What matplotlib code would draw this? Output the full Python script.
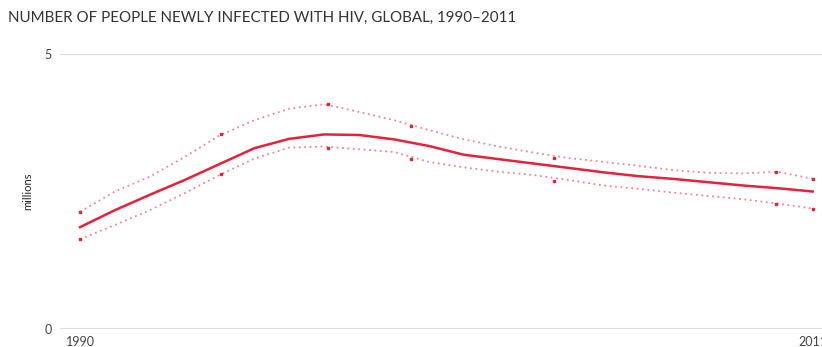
import matplotlib
matplotlib.use("Agg")
import matplotlib.pyplot as plt

# valores (milhões)
anos = list(range(1990, 2012))
central = [1.85, 2.16, 2.44, 2.71, 3.00, 3.29, 3.46, 3.54, 3.53, 3.45, 3.33, 3.17,
           3.09, 3.01, 2.93, 2.85, 2.78, 2.73, 2.67, 2.61, 2.56, 2.50]
superior = [2.13, 2.50, 2.77, 3.13, 3.52, 3.80, 4.01, 4.09, 3.95, 3.80, 3.62, 3.45,
            3.32, 3.21, 3.11, 3.04, 2.97, 2.89, 2.84, 2.83, 2.86, 2.73]
inferior = [1.63, 1.89, 2.16, 2.47, 2.80, 3.10, 3.30, 3.32, 3.27, 3.22, 3.04, 2.94,
            2.86, 2.80, 2.71, 2.61, 2.55, 2.48, 2.42, 2.36, 2.28, 2.19]

# pontos de estimativa marcados nas linhas pontilhadas
anos_pontos = [1990, 1994.05, 1997.1, 1999.5, 2003.6, 2009.95, 2011]
sup_pontos = [2.13, 3.54, 4.09, 3.70, 3.11, 2.86, 2.73]
inf_pontos = [1.63, 2.81, 3.30, 3.10, 2.70, 2.28, 2.19]

vermelho = "#e8203a"

fig = plt.figure(figsize=(8.22, 3.47), dpi=100)
ax = fig.add_axes([0.073, 0.0527, 0.927, 0.7908])

ax.plot(anos, central, color=vermelho, lw=1.8, solid_joinstyle="round", zorder=3)
ax.plot(anos, superior, color=vermelho, lw=1.3, ls=(0, (1, 2)), alpha=0.55, zorder=2)
ax.plot(anos, inferior, color=vermelho, lw=1.3, ls=(0, (1, 2)), alpha=0.55, zorder=2)
ax.plot(anos_pontos, sup_pontos, ls="none", marker="s", ms=2, color=vermelho, zorder=4)
ax.plot(anos_pontos, inf_pontos, ls="none", marker="s", ms=2, color=vermelho, zorder=4)

ax.set_xlim(1989.427, 2011.267)
ax.set_ylim(0, 5)
ax.set_yticks([0, 5])
ax.set_xticks([1990, 2011])
ax.grid(axis="y", color="#dddddd", lw=1.5)
ax.set_axisbelow(True)
for lado in ax.spines.values():
    lado.set_visible(False)
ax.tick_params(length=0, colors="#444444", labelsize=9)
ax.tick_params(axis="y", pad=6)
ax.tick_params(axis="x", pad=5)
for rotulo in ax.get_xticklabels() + ax.get_yticklabels():
    rotulo.set_fontfamily("Lato")

fig.text(0.0335, 0.45, "millions", rotation=90, fontsize=8, color="#222222",
         ha="center", va="center", family="Lato")
fig.text(0.01, 0.948, "NUMBER OF PEOPLE NEWLY INFECTED WITH HIV, GLOBAL, 1990\u20132011",
         fontsize=10.9, color="#333333", ha="left", va="center", family="Lato")

fig.savefig("out.png", dpi=100)
